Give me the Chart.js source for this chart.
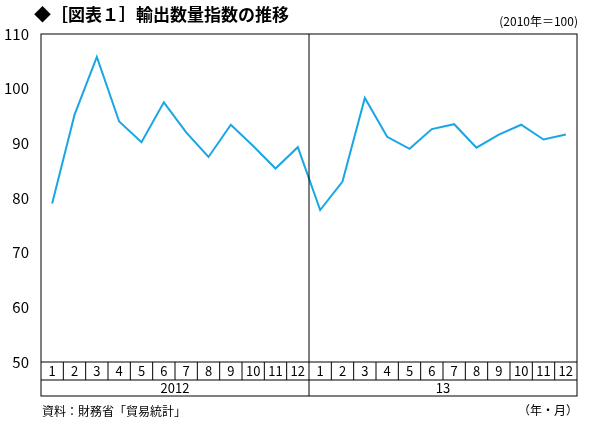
<!DOCTYPE html>
<html><head><meta charset="utf-8">
<script src="https://cdn.jsdelivr.net/npm/chart.js@4"></script>
<style>body{margin:0;background:#fff}#wrap{width:600px;height:434px}</style>
</head><body><div id="wrap"><canvas id="c" width="600" height="434"></canvas></div>
<script>
const MESES = ['1','2','3','4','5','6','7','8','9','10','11','12','1','2','3','4','5','6','7','8','9','10','11','12'];
const ANOS = ['2012', '13'];
const INDICE = [79, 95.2, 105.8, 94, 90.2, 97.5, 92, 87.5, 93.4, 89.5, 85.4, 89.3,
                77.8, 83, 98.3, 91.2, 89, 92.6, 93.5, 89.2, 91.6, 93.4, 90.7, 91.6];
const FONTE = '"Noto Sans CJK JP", "Noto Sans", sans-serif';

const tabela = {
  id: 'tabela',
  afterDraw(chart) {
    const ctx = chart.ctx, a = chart.chartArea, x = chart.scales.x;
    const passo = (a.right - a.left) / MESES.length;
    ctx.save();
    ctx.strokeStyle = '#000'; ctx.lineWidth = 1;
    ctx.strokeRect(a.left, a.top, a.right - a.left, 396 - a.top);
    // linhas da tabela
    ctx.beginPath();
    ctx.moveTo(a.left, a.bottom); ctx.lineTo(a.right, a.bottom);
    ctx.moveTo(a.left, 380); ctx.lineTo(a.right, 380);
    for (let i = 1; i < MESES.length; i++) {
      const px = a.left + i * passo;
      ctx.moveTo(px, a.bottom); ctx.lineTo(px, i === 12 ? 396 : 380);
    }
    const meio = a.left + 12 * passo;
    ctx.moveTo(meio, a.top); ctx.lineTo(meio, a.bottom);
    ctx.stroke();
    ctx.fillStyle = '#000'; ctx.textAlign = 'center'; ctx.textBaseline = 'middle';
    ctx.font = '13px ' + FONTE;
    MESES.forEach((m, i) => ctx.fillText(m, x.getPixelForValue(i), 371.5));
    ANOS.forEach((y, i) => ctx.fillText(y, a.left + (6 + 12 * i) * passo, 388.5));
    // textos
    ctx.textAlign = 'left';
    ctx.font = 'bold 17px ' + FONTE;
    ctx.fillText('◆［図表１］輸出数量指数の推移', 34, 15);
    ctx.font = '12px ' + FONTE;
    ctx.textAlign = 'right';
    ctx.fillText('(2010年＝100)', 578, 21);
    ctx.fillText('（年・月）', 578, 410);
    ctx.textAlign = 'left';
    ctx.fillText('資料：財務省「貿易統計」', 42, 411);
    ctx.restore();
  }
};

new Chart(document.getElementById('c'), {
  type: 'line',
  data: { labels: MESES.map((m, i) => i + ':' + m),
    datasets: [{ data: INDICE, borderColor: '#1aa6e4', borderWidth: 2, pointRadius: 0, tension: 0 }] },
  options: {
    responsive: false, animation: false,
    layout: { padding: { top: 34, right: 23, bottom: 72, left: 0 } },
    plugins: { legend: { display: false }, tooltip: { enabled: false } },
    scales: {
      x: { display: false, offset: true },
      y: { min: 50, max: 110,
        ticks: { stepSize: 10, color: '#000', font: { size: 15, family: FONTE }, padding: 4 },
        grid: { display: false }, border: { display: false },
        afterFit(s) { s.width = 41; } }
    }
  },
  plugins: [tabela]
});
</script></body></html>
